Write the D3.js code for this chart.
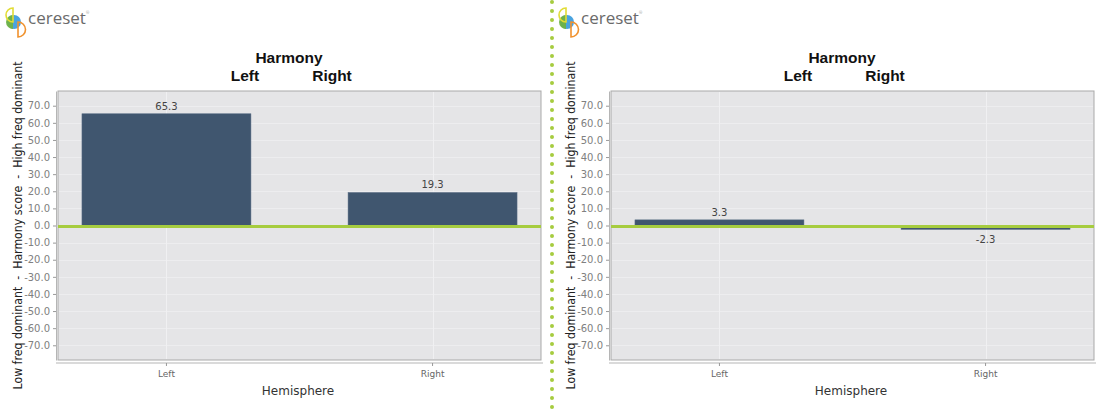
<!DOCTYPE html>
<html><head><meta charset="utf-8">
<script src="https://cdn.jsdelivr.net/npm/d3@7"></script>
<style>body{margin:0;background:#fff}svg{display:block}</style>
</head><body>
<script>
const categories = ["Left", "Right"];
const panel1Values = [65.3, 19.3];
const panel2Values = [3.3, -2.3];
const yTicks = [70, 60, 50, 40, 30, 20, 10, 0, -10, -20, -30, -40, -50, -60, -70];
const titleMain = "Harmony";
const titleSub = ["Left", "Right"];
const yLabel = "Low freq dominant  -  Harmony score  -  High freq dominant";
const xLabel = "Hemisphere";

const W = 1100, H = 411;
const svg = d3.select("body").append("svg").attr("width", W).attr("height", H);
const font = "'DejaVu Sans', Verdana, sans-serif";
const tfont = "'Liberation Sans', Arial, sans-serif";

function logo(g) {
  g.append("circle").attr("cx", 14).attr("cy", 22).attr("r", 7).attr("fill", "#4aa3df");
  g.append("path").attr("d", "M13,15 A7,7 0 0 0 13,29 Z").attr("fill", "#6fb244").attr("opacity", 0.95);
  g.append("path").attr("d", "M13,8 A7,7 0 0 0 13,22 Z").attr("fill", "none").attr("stroke", "#e1dc35").attr("stroke-width", 1.6);
  g.append("path").attr("d", "M18,22 A7.5,7.5 0 0 1 18,37 Z").attr("fill", "none").attr("stroke", "#f0922e").attr("stroke-width", 1.6);
  const t = g.append("text").attr("x", 28).attr("y", 24).attr("font-family", "'Open Sans', sans-serif")
    .attr("font-size", 17).attr("fill", "#6a6a6a").text("cereset");
  t.append("tspan").attr("font-size", 4).attr("dy", -10).attr("fill", "#999").text("®");
}

function panel(ox, values) {
  const g = svg.append("g").attr("transform", `translate(${ox},0)`);
  logo(g.append("g"));
  const left = 58, right = 541, top = 91, bottom = 360;
  const y = d3.scaleLinear().domain([-78.6, 78.6]).range([bottom, top]);
  const x = d3.scaleBand().domain(categories).range([left, right]).paddingInner(0.365).paddingOuter(0.09);
  // plot background
  g.append("rect").attr("x", left).attr("y", top).attr("width", right - left).attr("height", bottom - top)
    .attr("fill", "#e5e5e7").attr("stroke", "#a9a9a9").attr("stroke-width", 1);
  // grid
  g.selectAll(".hg").data(yTicks).join("line").attr("x1", left + 1).attr("x2", right - 1)
    .attr("y1", d => Math.round(y(d)) + 0.5).attr("y2", d => Math.round(y(d)) + 0.5)
    .attr("stroke", "#ededef").attr("stroke-width", 1);
  g.selectAll(".vg").data(categories).join("line")
    .attr("x1", d => Math.round(x(d) + x.bandwidth() / 2) + 0.5).attr("x2", d => Math.round(x(d) + x.bandwidth() / 2) + 0.5)
    .attr("y1", top + 1).attr("y2", bottom - 1).attr("stroke", "#f0f0f2");
  // bars
  g.selectAll(".bar").data(values).join("rect")
    .attr("x", (d, i) => x(categories[i])).attr("width", x.bandwidth())
    .attr("y", d => y(Math.max(0, d))).attr("height", d => Math.abs(y(d) - y(0)))
    .attr("fill", "#40566f").attr("stroke", "#5a6e86").attr("stroke-width", 0.5);
  // zero line
  g.append("line").attr("x1", left).attr("x2", right).attr("y1", y(0) + 1).attr("y2", y(0) + 1)
    .attr("stroke", "#a6cc3f").attr("stroke-width", 3);
  // value labels
  g.selectAll(".vl").data(values).join("text")
    .attr("x", (d, i) => x(categories[i]) + x.bandwidth() / 2)
    .attr("y", d => d >= 0 ? y(d) - 4 : y(d) + 14)
    .attr("text-anchor", "middle").attr("font-family", font).attr("font-size", 10).attr("fill", "#444")
    .text(d => d.toFixed(1));
  // y axis
  const ya = g.append("g").attr("transform", `translate(${left - 2},0)`)
    .call(d3.axisLeft(y).tickValues(yTicks).tickSize(3).tickSizeOuter(0).tickFormat(d => d.toFixed(1)));
  ya.select(".domain").attr("stroke", "#b5b5b5");
  ya.selectAll(".tick line").attr("stroke", "#999");
  ya.selectAll("text").attr("font-family", font).attr("font-size", 10).attr("fill", "#808080");
  // x axis
  const xa = g.append("g").attr("transform", `translate(0,${bottom + 3})`)
    .call(d3.axisBottom(x).tickSize(3).tickSizeOuter(0));
  xa.select(".domain").attr("stroke", "#b5b5b5").attr("d", `M${left - 2},0H${right + 2}`);
  xa.selectAll(".tick line").attr("stroke", "#999");
  xa.selectAll("text").attr("font-family", font).attr("font-size", 9).attr("fill", "#666").attr("dy", "0.9em");
  // titles
  g.append("text").attr("x", 289).attr("y", 63).attr("text-anchor", "middle")
    .attr("font-family", tfont).attr("font-weight", "bold").attr("font-size", 15.5).attr("fill", "#111").text(titleMain);
  g.append("text").attr("x", 245).attr("y", 81).attr("text-anchor", "middle")
    .attr("font-family", tfont).attr("font-weight", "bold").attr("font-size", 15.5).attr("fill", "#111").text(titleSub[0]);
  g.append("text").attr("x", 332).attr("y", 81).attr("text-anchor", "middle")
    .attr("font-family", tfont).attr("font-weight", "bold").attr("font-size", 15.5).attr("fill", "#111").text(titleSub[1]);
  g.append("text").attr("transform", `translate(22,${(top + bottom) / 2}) rotate(-90)`).attr("text-anchor", "middle")
    .attr("font-family", font).attr("font-size", 11.5).attr("fill", "#222")
    .attr("textLength", 328).attr("lengthAdjust", "spacingAndGlyphs")
    .style("white-space", "pre").text(yLabel);
  g.append("text").attr("x", 298).attr("y", 395).attr("text-anchor", "middle")
    .attr("font-family", font).attr("font-size", 12).attr("fill", "#333").text(xLabel);
}

panel(0, panel1Values);
panel(553, panel2Values);

// dotted divider
svg.append("line").attr("x1", 552).attr("x2", 552).attr("y1", 2).attr("y2", 411)
  .attr("stroke", "#a6cc3f").attr("stroke-width", 4).attr("stroke-linecap", "round")
  .attr("stroke-dasharray", "0 9");
</script>
</body></html>
